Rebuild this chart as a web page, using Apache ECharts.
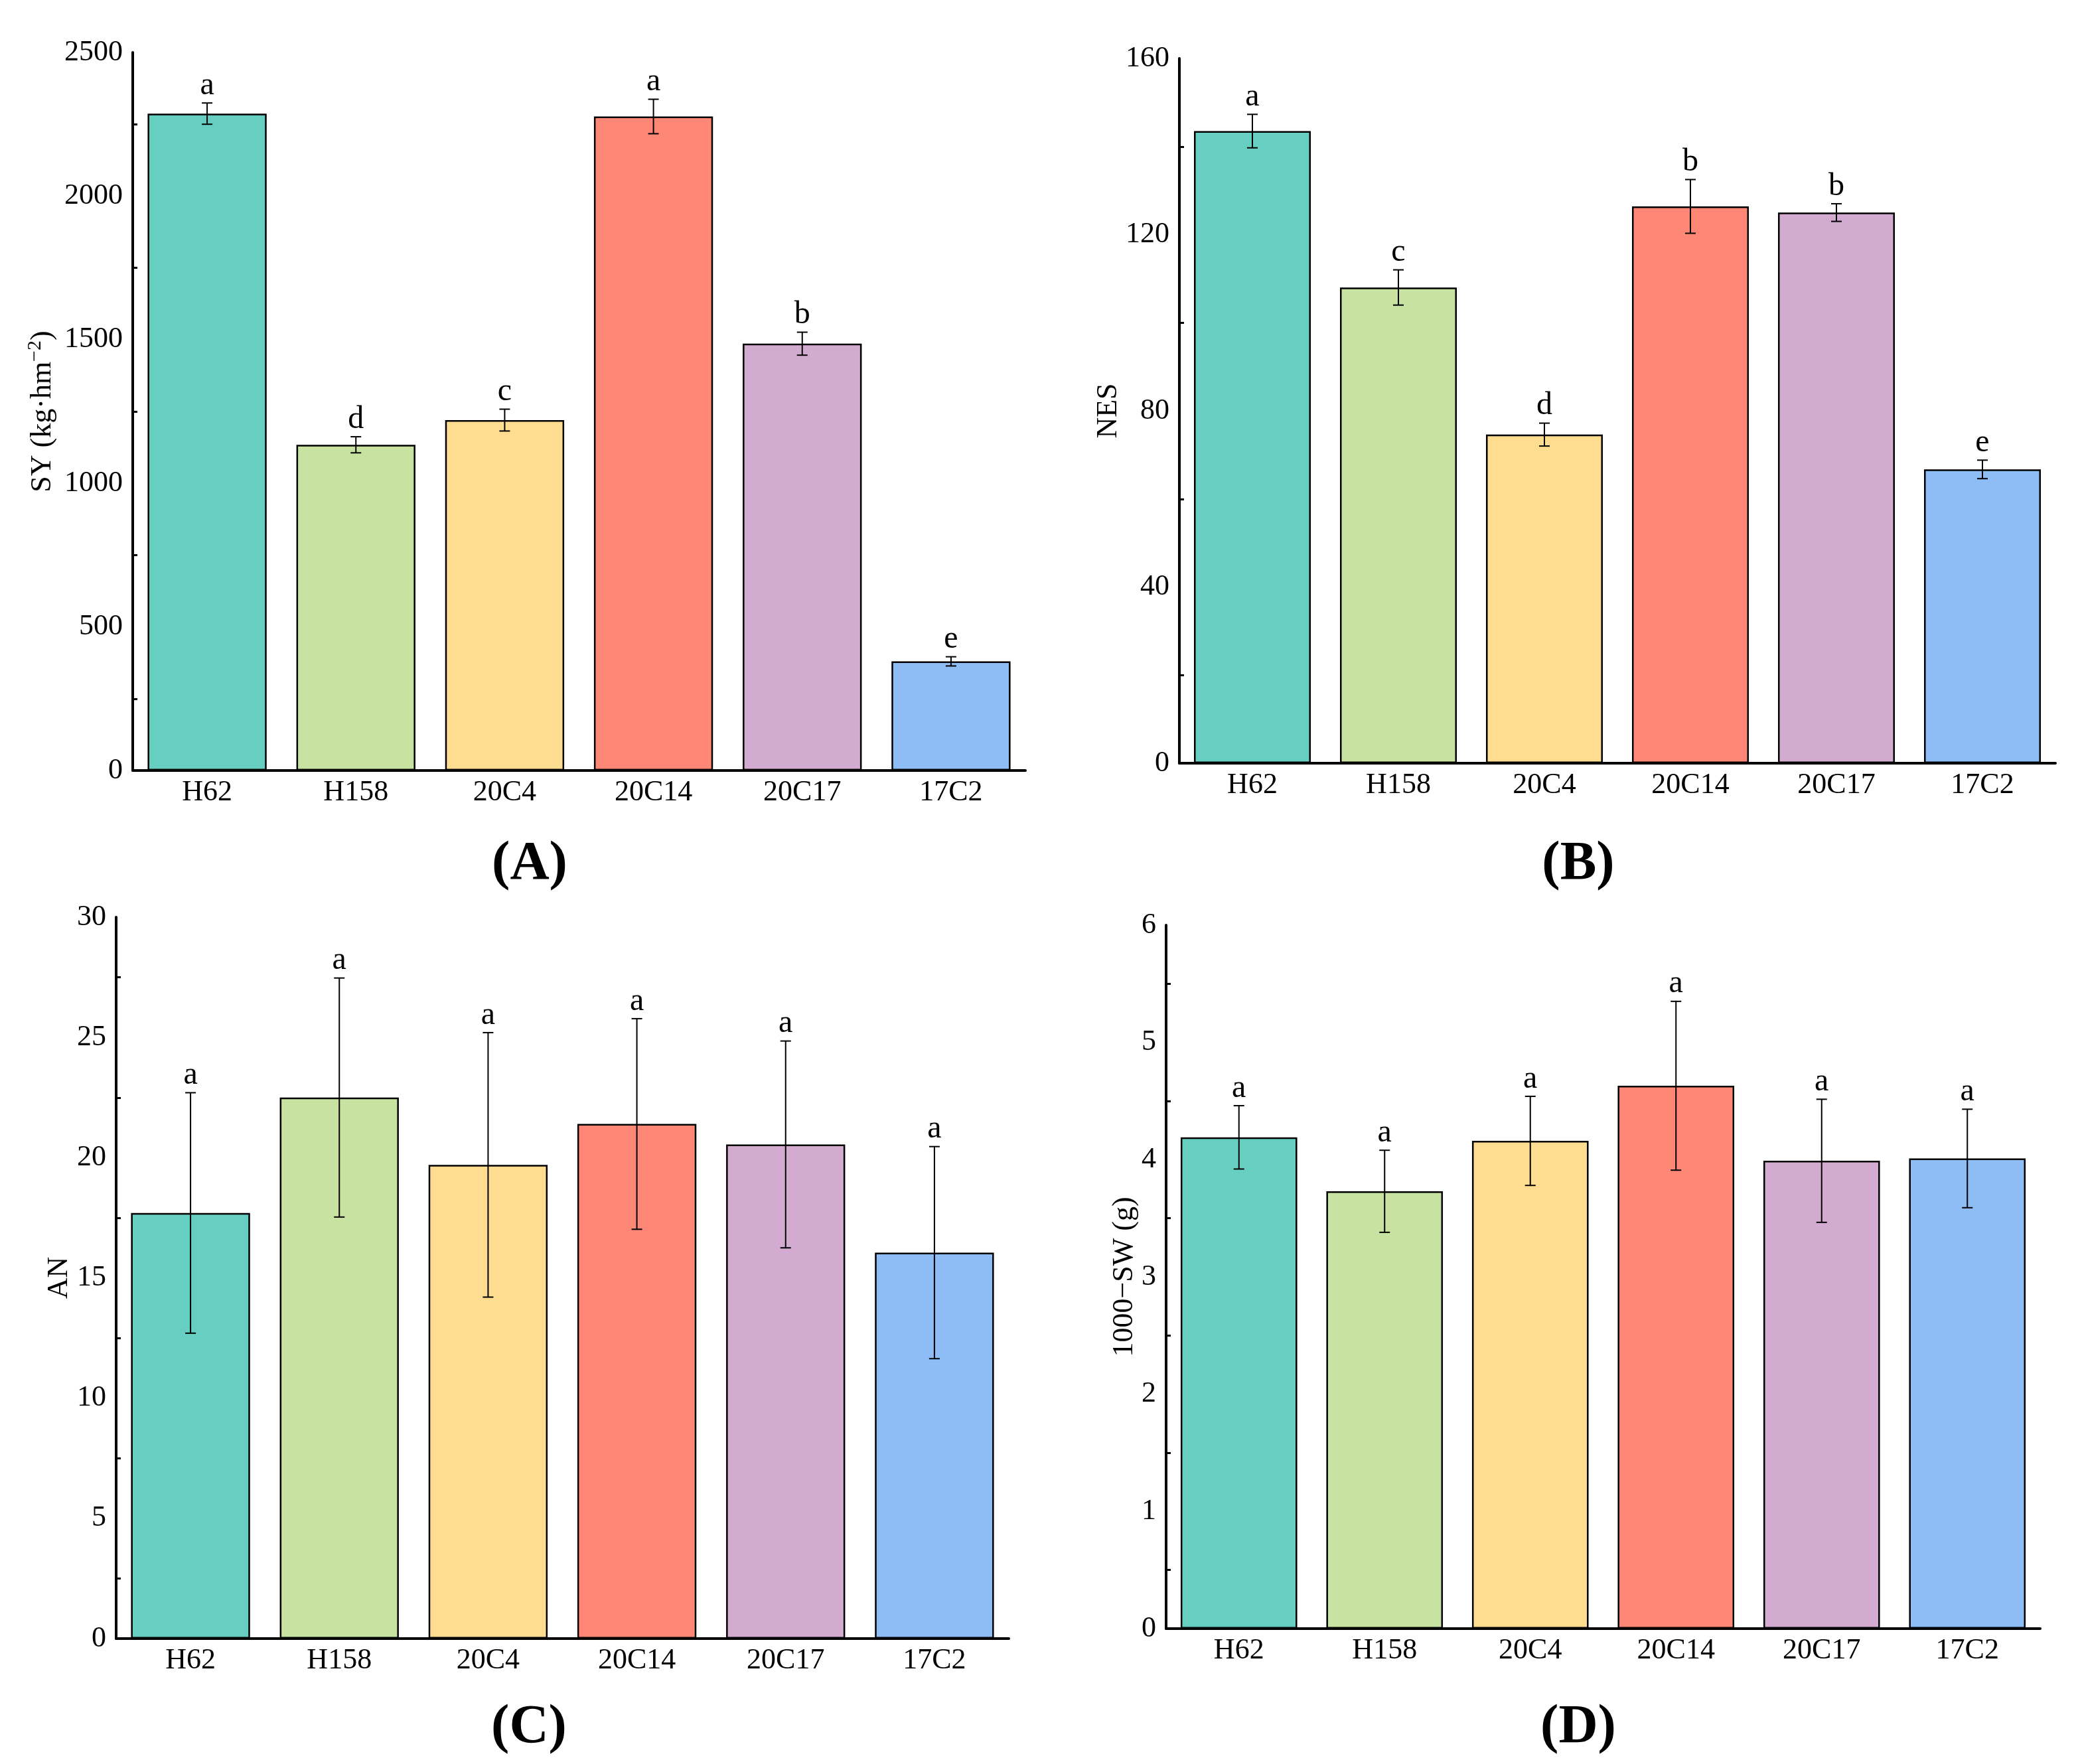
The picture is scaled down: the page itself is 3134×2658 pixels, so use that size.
<!DOCTYPE html>
<html>
<head>
<meta charset="utf-8">
<title>Seed yield traits</title>
<script src="https://cdn.jsdelivr.net/npm/echarts@6/dist/echarts.min.js"></script>
<style>
  html, body { margin: 0; padding: 0; background: #fff; }
  #chart { width: 3134px; height: 2658px; }
</style>
</head>
<body>
<div id="chart"></div>
<script>
// categories and bar colours shared by all four panels
const categories = ['H62', 'H158', '20C4', '20C14', '20C17', '17C2'];
const barColors = ['#66CFC1', '#C8E2A1', '#FEDC90', '#FF8776', '#D3AAD0', '#8EBCF4'];

// (A) seed yield
const syValues = [2287, 1134, 1220, 2277, 1486, 380];
const syErrors = [37, 28, 38, 60, 40, 16];
const syLetters = ['a', 'd', 'c', 'a', 'b', 'e'];

// (B) NES
const nesValues = [143.5, 108.0, 74.6, 126.4, 125.0, 66.7];
const nesErrors = [3.8, 4.0, 2.6, 6.1, 2.0, 2.1];
const nesLetters = ['a', 'c', 'd', 'b', 'b', 'e'];

// (C) AN
const anValues = [17.7, 22.5, 19.7, 21.4, 20.55, 16.05];
const anErrors = [5.0, 4.97, 5.5, 4.38, 4.3, 4.41];
const anLetters = ['a', 'a', 'a', 'a', 'a', 'a'];

// (D) 1000-seed weight
const swValues = [4.19, 3.73, 4.16, 4.63, 3.99, 4.01];
const swErrors = [0.27, 0.35, 0.38, 0.72, 0.525, 0.42];
const swLetters = ['a', 'a', 'a', 'a', 'a', 'a'];

const FONT = '"Liberation Serif", "Times New Roman", serif';

const panels = [
  { tag: '(A)', name: 'SY (kg·hm{sup|−2})', values: syValues, errors: syErrors, letters: syLetters,
    max: 2500, interval: 500, grid: { left: 200, top: 79, width: 1345, height: 1082 }, nameGap: 110, tagPos: [798, 1303] },
  { tag: '(B)', name: 'NES', values: nesValues, errors: nesErrors, letters: nesLetters,
    max: 160, interval: 40, grid: { left: 1777, top: 88, width: 1320, height: 1062 }, nameGap: 84, tagPos: [2378, 1303] },
  { tag: '(C)', name: 'AN', values: anValues, errors: anErrors, letters: anLetters,
    max: 30, interval: 5, grid: { left: 175, top: 1382, width: 1345, height: 1087 }, nameGap: 64, tagPos: [797, 2604] },
  { tag: '(D)', name: '1000−SW (g)', values: swValues, errors: swErrors, letters: swLetters,
    max: 6, interval: 1, grid: { left: 1757, top: 1394, width: 1317, height: 1060 }, nameGap: 40, tagPos: [2378, 2604] }
];

const grids = [], xAxes = [], yAxes = [], series = [], graphics = [];

panels.forEach((p, i) => {
  grids.push(p.grid);

  // main category axis: ticks at bar centres, labels
  xAxes.push({
    type: 'category', gridIndex: i, data: categories, position: 'bottom',
    axisLine: { lineStyle: { color: '#000', width: 4 } },
    axisTick: { alignWithLabel: true, inside: true, length: 14, lineStyle: { color: '#000', width: 3 } },
    axisLabel: { color: '#000', fontSize: 44, fontFamily: FONT, margin: 11 },
    splitLine: { show: false }
  });
  // second axis only for the short ticks between categories
  xAxes.push({
    type: 'category', gridIndex: i, data: categories, position: 'bottom',
    axisLine: { show: false },
    axisTick: { inside: true, length: 6, lineStyle: { color: '#000', width: 3 } },
    axisLabel: { show: false },
    splitLine: { show: false }
  });

  yAxes.push({
    type: 'value', gridIndex: i, min: 0, max: p.max, interval: p.interval,
    name: p.name, nameLocation: 'middle', nameGap: p.nameGap,
    nameTextStyle: {
      color: '#000', fontSize: 44, fontFamily: FONT,
      rich: { sup: { color: '#000', fontSize: 30, fontFamily: FONT, padding: [0, 0, 22, 0] } }
    },
    axisLine: { show: true, lineStyle: { color: '#000', width: 4 } },
    axisTick: { inside: true, length: 14, lineStyle: { color: '#000', width: 3 } },
    minorTick: { show: true, splitNumber: 2, length: 7, lineStyle: { color: '#000', width: 3 } },
    axisLabel: { color: '#000', fontSize: 44, fontFamily: FONT, margin: 15, formatter: v => String(v) },
    splitLine: { show: false }
  });

  series.push({
    type: 'bar', xAxisIndex: i * 2, yAxisIndex: i,
    barCategoryGap: '20%',
    data: p.values.map((v, k) => ({
      value: v,
      itemStyle: { color: barColors[k], borderColor: '#000', borderWidth: 2.5 }
    })),
    animation: false
  });

  // error bars with significance letters
  series.push({
    type: 'custom', xAxisIndex: i * 2, yAxisIndex: i, z: 10,
    data: p.values.map((v, k) => [k, v, p.errors[k], p.letters[k]]),
    renderItem: (params, api) => {
      const k = api.value(0), v = api.value(1), e = api.value(2);
      const top = api.coord([k, v + e]);
      const bot = api.coord([k, v - e]);
      const cap = 8;
      const ls = { stroke: '#000', lineWidth: 2 };
      return {
        type: 'group',
        children: [
          { type: 'line', shape: { x1: top[0], y1: top[1], x2: bot[0], y2: bot[1] }, style: ls },
          { type: 'line', shape: { x1: top[0] - cap, y1: top[1], x2: top[0] + cap, y2: top[1] }, style: ls },
          { type: 'line', shape: { x1: bot[0] - cap, y1: bot[1], x2: bot[0] + cap, y2: bot[1] }, style: ls },
          { type: 'text', x: top[0], y: top[1] - 2,
            style: { text: p.letters[k], fill: '#000', font: '48px ' + FONT,
                     textAlign: 'center', textVerticalAlign: 'bottom' } }
        ]
      };
    },
    animation: false
  });

  graphics.push({
    type: 'text', x: p.tagPos[0], y: p.tagPos[1],
    style: { text: p.tag, fill: '#000', font: 'bold 82px ' + FONT,
             textAlign: 'center', textVerticalAlign: 'middle' }
  });
});

const chart = echarts.init(document.getElementById('chart'));
chart.setOption({
  backgroundColor: '#fff',
  animation: false,
  grid: grids,
  xAxis: xAxes,
  yAxis: yAxes,
  series: series,
  graphic: graphics
});
</script>
</body>
</html>
